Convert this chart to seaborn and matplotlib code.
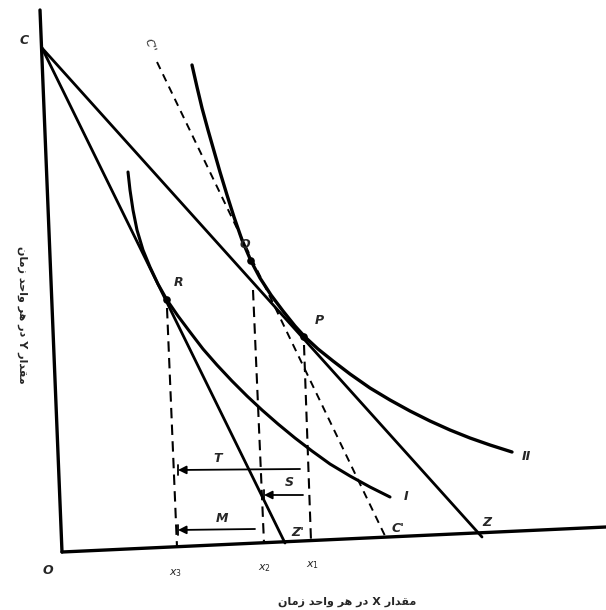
import matplotlib
matplotlib.use("Agg")
import matplotlib.pyplot as plt
import pandas as pd
import seaborn as sns

# picture coordinates (x to the right, y downward)
axis_y = [(40, 10), (62, 552)]
axis_x = [(62, 552), (606, 527)]

point_C = (42, 48)
point_Z = (482, 537)
point_Z1 = (285, 543)          # Z'
dash_top = (157, 62)           # C''
dash_bottom = (387, 540)       # C'

curve_II_x = [192, 197, 202, 208, 214, 220, 227, 234, 242, 251, 260, 271, 283,
              295, 305, 318, 333, 350, 370, 390, 410, 430, 450, 470, 490, 512]
curve_II_y = [65, 87, 108, 130, 151, 172, 195, 217, 240, 261, 278, 295, 311,
              326, 337, 349, 361, 374, 388, 400, 411, 421, 430, 438, 445, 452]

curve_I_x = [128, 130, 133, 137, 143, 150, 158, 167, 178, 190, 203, 217, 232,
             247, 262, 278, 295, 312, 330, 350, 370, 390]
curve_I_y = [172, 190, 210, 230, 250, 267, 284, 300, 316, 332, 349, 365, 381,
             396, 410, 424, 438, 451, 464, 476, 487, 497]

points = {"R": (167, 300), "Q": (251, 261), "P": (304, 337)}

verticals = {
    "x3": [(167, 308), (177, 547)],
    "x2": [(253, 290), (264, 543)],
    "x1": [(304, 345), (311, 541)],
}

# effect arrows: (label, start, end)
arrows = [
    ("T", (300, 469), (178, 470)),
    ("S", (303, 495), (264, 495)),
    ("M", (255, 529), (178, 530)),
]

labels = [
    ("C", 24, 40), ("O", 48, 570), ("R", 179, 283), ("Q", 245, 244),
    ("P", 319, 320), ("Z'", 298, 533), ("C'", 398, 528), ("Z", 487, 522),
    ("I", 406, 497), ("II", 526, 456), ("T", 218, 458), ("S", 289, 483),
    ("M", 222, 518),
]
tick_labels = [("$x_3$", 176, 573), ("$x_2$", 265, 568), ("$x_1$", 313, 565)]

xlabel = "مقدار X در هر واحد زمان"
ylabel = "مقدار Y در هر واحد زمان"

FORMS = {
    'ا': ('\uFE8D', '\uFE8E', None, None),
    'د': ('\uFEA9', '\uFEAA', None, None),
    'ر': ('\uFEAD', '\uFEAE', None, None),
    'ز': ('\uFEAF', '\uFEB0', None, None),
    'و': ('\uFEED', '\uFEEE', None, None),
    'م': ('\uFEE1', '\uFEE2', '\uFEE3', '\uFEE4'),
    'ق': ('\uFED5', '\uFED6', '\uFED7', '\uFED8'),
    'ه': ('\uFEE9', '\uFEEA', '\uFEEB', '\uFEEC'),
    'ح': ('\uFEA1', '\uFEA2', '\uFEA3', '\uFEA4'),
    'ن': ('\uFEE5', '\uFEE6', '\uFEE7', '\uFEE8'),
}


def persian(text):
    # crude shaping + visual order, matplotlib has no bidi
    out = []
    for i, ch in enumerate(text):
        if ch not in FORMS:
            out.append(ch)
            continue
        prev = text[i - 1] if i > 0 else ''
        nxt = text[i + 1] if i + 1 < len(text) else ''
        jp = prev in FORMS and FORMS[prev][2] is not None
        jn = nxt in FORMS and FORMS[ch][2] is not None
        iso, fin, ini, med = FORMS[ch]
        if jp and jn:
            out.append(med)
        elif jp:
            out.append(fin)
        elif jn:
            out.append(ini)
        else:
            out.append(iso)
    return ''.join(reversed(out))


sns.set_style("white")
plt.rcParams['font.family'] = ['DejaVu Sans']

fig = plt.figure(figsize=(6.06, 6.10), dpi=100)
ax = fig.add_axes([0, 0, 1, 1])
ax.set_xlim(0, 606)
ax.set_ylim(610, 0)
ax.axis("off")


def seg(pts, **kw):
    df = pd.DataFrame(pts, columns=["x", "y"])
    sns.lineplot(data=df, x="x", y="y", sort=False, estimator=None, ax=ax, **kw)


seg(axis_y, color="black", lw=2.4)
seg(axis_x, color="black", lw=2.4)
seg([point_C, point_Z], color="black", lw=2.0)
seg([point_C, point_Z1], color="black", lw=2.0)
seg([dash_top, dash_bottom], color="black", lw=1.4, linestyle=(0, (4, 3)))

sns.lineplot(x=curve_II_x, y=curve_II_y, sort=False, estimator=None, ax=ax,
             color="black", lw=2.4)
sns.lineplot(x=curve_I_x, y=curve_I_y, sort=False, estimator=None, ax=ax,
             color="black", lw=2.2)

for name, pts in verticals.items():
    seg(pts, color="black", lw=1.5, linestyle=(0, (5, 3)))

px = [p[0] for p in points.values()]
py = [p[1] for p in points.values()]
sns.scatterplot(x=px, y=py, ax=ax, color="black", s=30, edgecolor="none", zorder=5)

for name, start, end in arrows:
    ax.annotate("", xy=end, xytext=start,
                arrowprops=dict(arrowstyle="-|>", color="black", lw=1.3,
                                mutation_scale=12, shrinkA=0, shrinkB=0))
    ax.plot([end[0], end[0]], [end[1] - 5, end[1] + 5], color="black", lw=1.3)

for txt, x, y in labels:
    ax.text(x, y, txt, fontsize=9, style="italic", fontweight="bold",
            ha="center", va="center")
for txt, x, y in tick_labels:
    ax.text(x, y, txt, fontsize=8, ha="center", va="center")

ax.text(150, 45, "C''", fontsize=8, style="italic", rotation=-70,
        ha="center", va="center")

ax.text(347, 602, persian(xlabel), fontsize=8, fontweight="bold",
        ha="center", va="center")
ax.text(22, 315, persian(ylabel), fontsize=8, fontweight="bold",
        rotation=-90, ha="center", va="center")

fig.savefig("out.png", dpi=100)
